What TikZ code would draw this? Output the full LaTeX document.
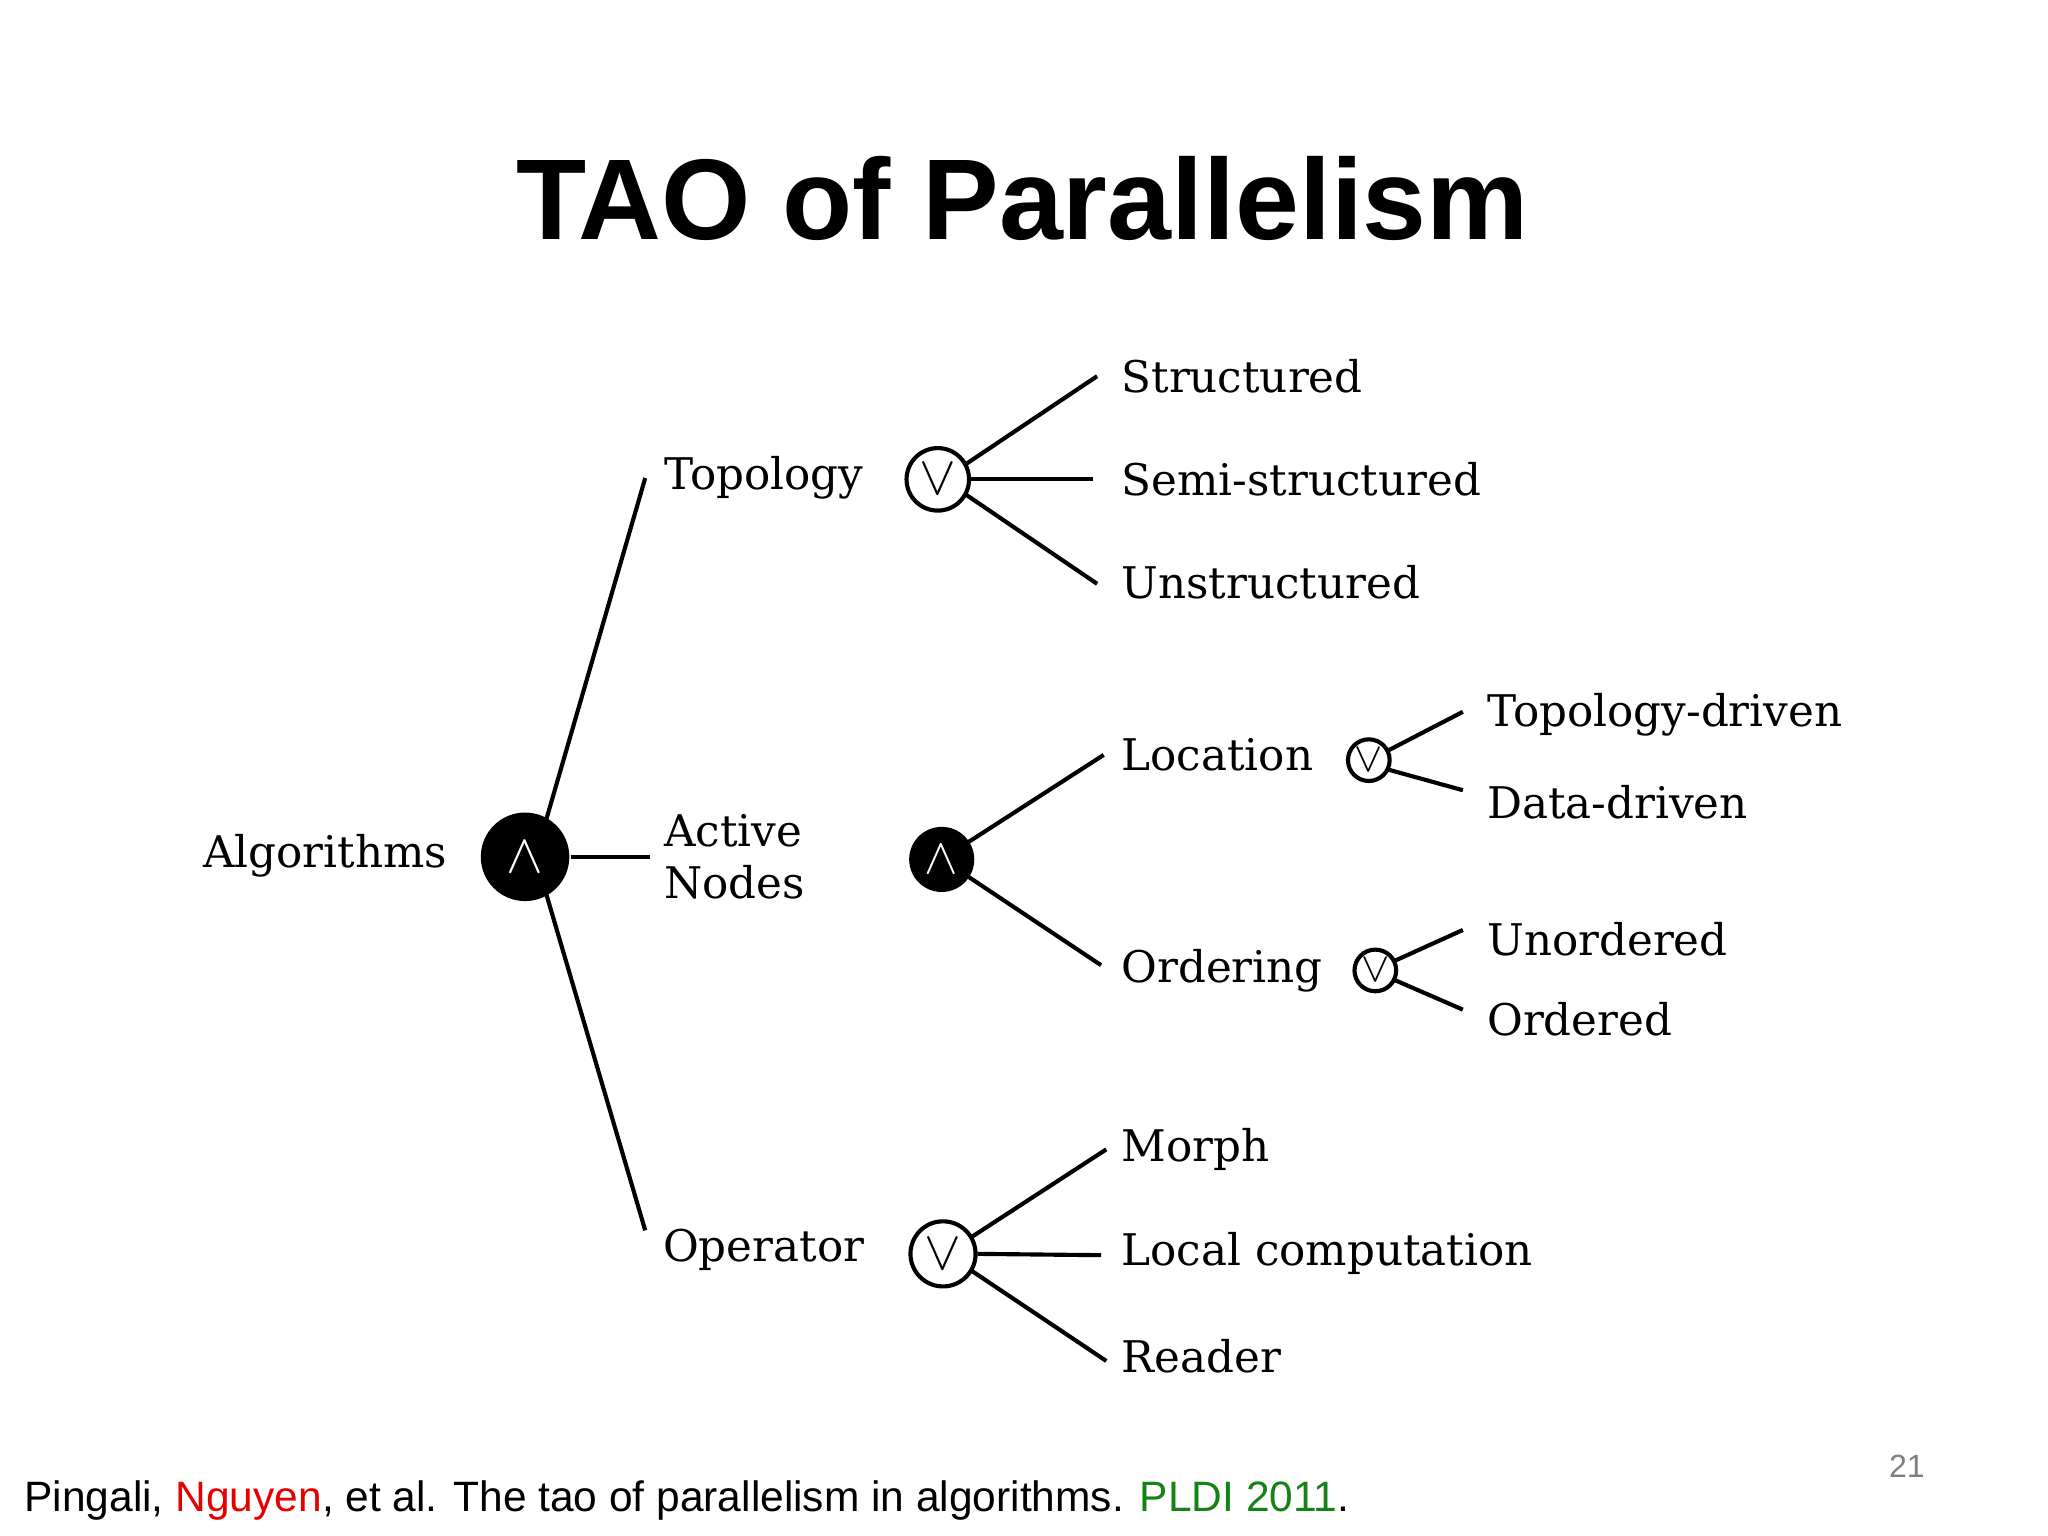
\documentclass[tikz,border=0pt]{standalone}
\usepackage{fontspec}
\setmainfont{DejaVu Serif}
\newfontfamily\titlefont{Liberation Sans}
\definecolor{refred}{RGB}{230,0,0}
\definecolor{refgreen}{RGB}{20,130,20}
\begin{document}
\begin{tikzpicture}[x=0.01cm,y=-0.01cm,
  lbl/.style={anchor=west,inner sep=0pt,font=\fontsize{9.5}{11.5}\selectfont},
  orc/.style={circle,draw,line width=0.9pt,fill=white,minimum size=#1,inner sep=0pt},
  andc/.style={circle,fill=black,minimum size=#1,inner sep=0pt,text=white},
  edge/.style={line width=0.9pt}]
\useasboundingbox (0,0) rectangle (1568,1176);
\node[font=\titlefont\bfseries\fontsize{25}{30}\selectfont] (title) at (783,152) {TAO of Parallelism};
% root
\node[lbl,anchor=east] (alg) at (343,655) {Algorithms};
\node[andc=68*0.2835pt] (a0) at (402,656) {};
\node[font=\fontsize{13}{13}\selectfont,text=white] at (a0) {$\wedge$};
\node[lbl] (top) at (508,366) {Topology};
\node[lbl,align=left] (act) at (508,656) {Active\\Nodes};
\node[lbl] (op) at (507,957) {Operator};
\coordinate (ct) at (494,366);
\coordinate (ca) at (498,656);
\coordinate (co) at (494,942);
\draw[edge] (a0.north east) ++(-10,2) -- (ct);
\draw[edge] (a0) ++(35,0) -- (ca);
\draw[edge] (a0.south east) ++(-10,-2) -- (co);
% topology
\node[orc=48*0.2835pt] (o1) at (718,367) {};
\node[font=\fontsize{13}{13}\selectfont] at (o1) {$\vee$};
\coordinate (s1) at (840,288); \coordinate (s2) at (837,367); \coordinate (s3) at (840,447);
\draw[edge] (o1) ++(22,-12) -- (s1);
\draw[edge] (o1.east) -- (s2);
\draw[edge] (o1) ++(22,12) -- (s3);
\node[lbl] (l1) at (858,288) {Structured};
\node[lbl] (l2) at (858,367) {Semi-structured};
\node[lbl] (l3) at (858,446) {Unstructured};
% active nodes
\node[andc=50*0.2835pt] (a1) at (721,658) {};
\node[font=\fontsize{11}{11}\selectfont,text=white] at (a1) {$\wedge$};
\coordinate (s4) at (845,578); \coordinate (s5) at (843,739);
\draw[edge] (a1) ++(20,-13) -- (s4);
\draw[edge] (a1) ++(20,13) -- (s5);
\node[lbl] (loc) at (858,578) {Location};
\node[lbl] (ord) at (858,743) {Ordering};
\node[orc=32*0.2835pt] (o2) at (1048,582) {};
\node[font=\fontsize{9}{9}\selectfont] at (o2) {$\vee$};
\coordinate (s6) at (1120,545); \coordinate (s7) at (1120,605);
\draw[edge] (o2) ++(14,-7) -- (s6);
\draw[edge] (o2) ++(14,7) -- (s7);
\node[lbl] at (1138,547) {Topology-driven};
\node[lbl] at (1138,614) {Data-driven};
\node[orc=32*0.2835pt] (o3) at (1053,743) {};
\node[font=\fontsize{9}{9}\selectfont] at (o3) {$\vee$};
\coordinate (s8) at (1120,712); \coordinate (s9) at (1120,773);
\draw[edge] (o3) ++(14,-7) -- (s8);
\draw[edge] (o3) ++(14,7) -- (s9);
\node[lbl] at (1138,719) {Unordered};
\node[lbl] at (1138,780) {Ordered};
% operator
\node[orc=50*0.2835pt] (o4) at (722,960) {};
\node[font=\fontsize{13}{13}\selectfont] at (o4) {$\vee$};
\coordinate (s10) at (847,880); \coordinate (s11) at (843,961); \coordinate (s12) at (847,1042);
\draw[edge] (o4) ++(22,-13) -- (s10);
\draw[edge] (o4.east) -- (s11);
\draw[edge] (o4) ++(22,13) -- (s12);
\node[lbl] at (858,880) {Morph};
\node[lbl] at (858,960) {Local computation};
\node[lbl] at (858,1038) {Reader};
% footer
\node[anchor=west,inner sep=0pt,font=\titlefont\fontsize{9.25}{11}\selectfont] (ref) at (18,1149) {Pingali, \textcolor{refred}{Nguyen}, et al. The tao of parallelism in algorithms. \textcolor{refgreen}{PLDI 2011}.};
\node[font=\titlefont\fontsize{7}{8}\selectfont,text=gray] (pg) at (1460,1123) {21};
\end{tikzpicture}
\end{document}
